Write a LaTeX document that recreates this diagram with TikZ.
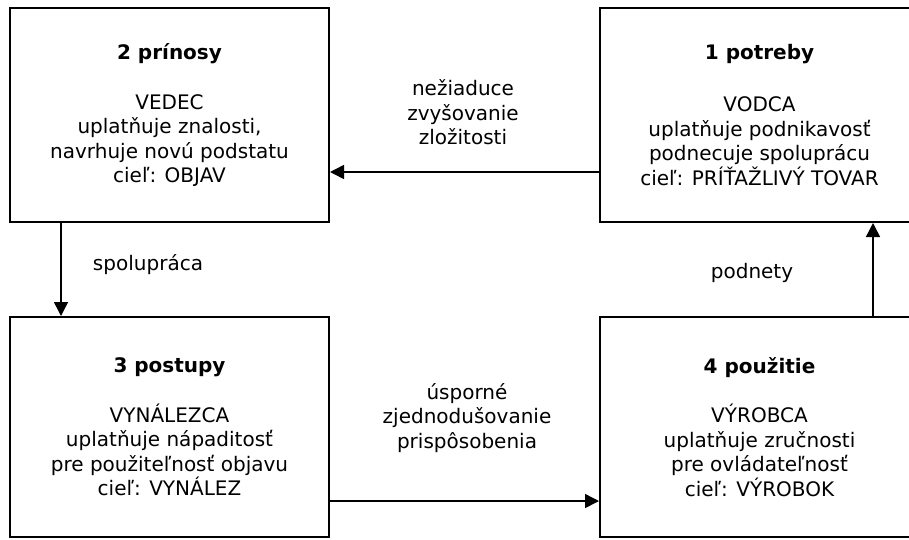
\documentclass[tikz,border=0pt]{standalone}
\usepackage{fontspec}
\setmainfont{DejaVu Sans}
\usetikzlibrary{arrows.meta}
\begin{document}
\begin{tikzpicture}[x=1pt,y=-1pt,
  every node/.style={font=\fontsize{20}{24.5}\selectfont},
  box/.style={draw, line width=2pt, minimum width=319pt, align=center, inner sep=0pt},
  arr/.style={line width=1.5pt, -{Triangle[length=14pt,width=14pt]}},
  lbl/.style={align=center, inner sep=0pt}
]
\useasboundingbox (0,0) rectangle (909,539);
\clip (0,0) rectangle (909,539);
\fill[white] (0,0) rectangle (909,539);
\node[box, minimum height=214pt] (b2) at (169.5,115) {\textbf{2 prínosy}\\[25pt]VEDEC\\uplatňuje znalosti,\\navrhuje novú podstatu\\cieľ: OBJAV};
\node[box, minimum height=214pt] (b1) at (759.5,115) {\textbf{1 potreby}\\[28pt]VODCA\\uplatňuje podnikavosť\\podnecuje spoluprácu\\cieľ: PRÍŤAŽLIVÝ TOVAR};
\node[box, minimum height=220pt] (b3) at (169.5,427) {\textbf{3 postupy}\\[25pt]VYNÁLEZCA\\uplatňuje nápaditosť\\pre použiteľnosť objavu\\cieľ: VYNÁLEZ};
\node[box, minimum height=220pt] (b4) at (759.5,427) {\textbf{4 použitie}\\[25pt]VÝROBCA\\uplatňuje zručnosti\\pre ovládateľnosť\\cieľ: VÝROBOK};
\draw[arr] ([xshift=52pt]b2.south west) -- ([xshift=52pt]b3.north west);
\draw[arr] ([xshift=113.5pt]b4.north) -- ([xshift=113.5pt]b1.south);
\draw[arr] ([yshift=-57pt]b1.west) -- ([yshift=-57pt]b2.east);
\draw[arr] ([yshift=-74pt]b3.east) -- ([yshift=-74pt]b4.west);
\node[lbl] (l1) at (148,265) {spolupráca};
\node[lbl] (l2) at (752,273) {podnety};
\node[lbl] (l3) at (463,112.5) {nežiaduce\\zvyšovanie\\zložitosti};
\node[lbl] (l4) at (467,418) {úsporné\\zjednodušovanie\\prispôsobenia};
\end{tikzpicture}
\end{document}
